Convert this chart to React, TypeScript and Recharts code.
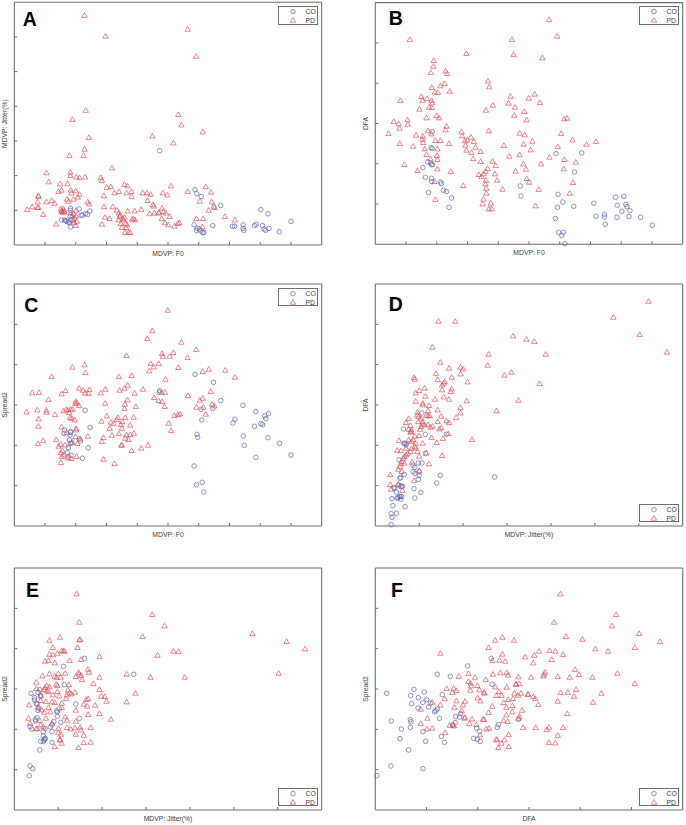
import React from "react";
import { ScatterChart, Scatter, XAxis, YAxis, Label } from "recharts";

type P = number[];

const f0Ticks = [100, 120, 140, 160, 180, 200, 220, 240, 260];
const jitterTicks = [5, 10, 15, 20, 25, 30];
const dfaTicks = [600, 650, 700, 750, 800];
const spreadTicks = [100, 200, 300, 400, 500];
const f0Domain = [80, 280];
const jitterDomain = [0, 35];
const dfaDomain = [550, 850];
const spreadDomain = [0, 600];
const seriesNames = ["CO", "PD"];

// Jitter and DFA and Spread2 are stored in thousandths
const aCO: P[] = [[174.6,13.6],[197.6,8],[198.7,7.4],[201.7,7],[209.8,5.5],[214.3,5.7],[240.4,5.1],[245,4.5],[260,3.4],[252.4,1.9],[245.7,2.4],[243.5,2.1],[242.6,2.3],[241.5,2.8],[237.4,3],[236.3,2.8],[229.3,2.1],[228.9,2.4],[228.9,2.9],[223.3,2.7],[222,2.7],[209.1,2.8],[203.3,1.8],[202.6,1.8],[201.5,2],[200.4,2.3],[198.9,2.4],[198.5,2.1],[197,2.9],[116.5,5.3],[116.5,5],[122.2,5.2],[129.1,4.9],[127.6,4.4],[126.3,4.5],[123.5,4.3],[124.3,4.3],[110.7,3.6],[112.6,3.6],[114.1,3.4],[115.2,3.3],[115.9,3.2],[116.5,2.6],[117,3.6],[113.5,3.5],[116.3,4.1],[118.9,3.8]];
const aPD: P[] = [[125.7,33.1],[139.3,30.1],[192.8,31.1],[198.3,27.2],[126.5,19.4],[117.8,18.1],[186.7,18.8],[188.7,17.3],[202.6,16.3],[169.8,15.7],[128.5,15.5],[183.5,14.7],[125.7,13.8],[125,12.9],[115.9,12.9],[143.5,11.1],[100.9,10.4],[116.5,10.5],[116.5,10],[120.4,9.8],[122.4,9.7],[126.1,9.8],[136.3,9.7],[137,9.3],[102.4,9.1],[109.8,8.8],[114.6,8.8],[108.7,7.7],[110.7,7.9],[116.7,7.9],[120,7.8],[117.2,7.5],[122.4,7.3],[121.3,6.9],[118.5,6.6],[114.3,6.6],[115.2,6.3],[95.7,7.1],[95.7,7],[95.2,6.2],[95,5.4],[91.7,5.5],[88.3,5.1],[100.9,6.2],[104.3,6.4],[106.3,6],[98.7,4.4],[95.7,5.4],[127.8,6.2],[128.7,5.9],[138.3,7.1],[138.3,5.5],[140.2,8.3],[142.8,8.4],[145.2,7.5],[148,7.7],[151.7,8.7],[153.7,8.5],[153,7.5],[156.3,7.7],[156.3,7],[163.5,7.5],[166.3,7.5],[168.7,7.3],[166.7,6.4],[170.2,5.8],[170.7,5.6],[176.7,7.5],[179.6,7.2],[182,8.5],[192.8,7.7],[204.6,8.4],[208,7.6],[200.7,6.3],[208.5,6.2],[210.2,5.4],[206.5,5],[217,4.1],[223.5,3.6],[198.5,3.8],[202.8,3.8],[202.4,2.6],[187.4,3.2],[186.5,3.1],[184.1,2.7],[180.2,2.9],[178,3.2],[181.1,4.1],[178.7,4.6],[177.2,4.8],[176.1,5.3],[175.9,3.8],[173.9,4.6],[174.1,4.7],[171.1,4.6],[168,4.5],[162.6,5.1],[158.3,4.9],[153.7,4.9],[144.1,5.5],[146.7,5],[148,4.6],[148.5,4.1],[151.7,4],[150.7,3.8],[152.4,3.1],[149.3,3.1],[150,2.5],[152.8,2.5],[152,1.8],[154.3,1.8],[155.4,1.8],[156.7,3.7],[158.5,3.6],[157.6,3.8],[142,3.8],[139.1,4],[137,3],[110.2,5.2],[110.9,5],[112,5.2],[112.6,4.9],[110.7,4.8],[111.5,4.7],[112.4,4.8],[107.2,3],[118.5,4.5],[120.2,5],[120.2,4.2],[117.4,4.1],[118.5,3.6],[120.7,3.4],[118.9,3.2],[120,2.8],[116.7,4.6],[148.9,4.3],[151.1,3.6],[153.3,2.9],[147.8,3.6]];

const bCO: P[] = [[117,689.8],[117,668.7],[197.6,662.5],[214.3,663.4],[209.6,639.8],[114.1,652.2],[115.9,651],[116.7,648.9],[110.9,645.2],[112.6,633.2],[116.5,631.9],[116.7,627.8],[122.4,627.4],[123,625.3],[124.3,617],[126.3,615.4],[114.6,614.1],[129.6,607.5],[128,595.9],[174.3,622.4],[174.8,610],[198.9,612],[202,602.5],[198.5,595.9],[209.1,597.2],[197.2,581.9],[199.3,564.9],[202.4,564.9],[201.3,560.8],[203.3,550.8],[222.2,600.9],[223.5,584.8],[229.1,587.2],[229.1,583.9],[229.6,574.8],[236.3,608.3],[241.7,609.6],[243,599.6],[237.4,598.4],[243.7,596.8],[240.4,591],[245.7,591.8],[245,584.3],[237.2,583.5],[252.6,583.5],[260.2,573.6],[117.2,648.9],[116.3,670]];
const bPD: P[] = [[193,828.9],[198.3,808.2],[102.4,804],[168.9,804],[170,785.4],[139.3,786.7],[188.7,781.3],[118,778],[117.8,770.9],[116.1,763],[125.7,765],[126.7,761.8],[153.3,752.7],[154.1,745.3],[125.2,749.4],[122.4,746.5],[116.7,744.5],[128.5,739.9],[118.7,738.7],[120.7,738.2],[168,733.7],[183.7,736.2],[179.8,731.2],[110,733.3],[110.7,728.7],[113.7,730.8],[116.7,728.3],[117,725.4],[96.3,728.3],[187,725.8],[166.7,725],[156.5,722.5],[170.9,720],[152,716.3],[108.7,717.6],[115,720],[116.7,719.6],[177,714.7],[170.4,710.1],[120,709.7],[121.5,706.8],[113.3,706.8],[178.5,704.3],[202.8,705.6],[204.8,706.4],[100.9,704.3],[101.1,698.9],[92,702.3],[95.2,699.4],[95.7,694],[126.3,696.5],[125.7,691.9],[153.9,690.7],[88.5,687.4],[114.3,690.7],[116.5,686.9],[106.5,685.3],[110.9,684],[110.7,680.3],[136.1,689.4],[136.5,684.5],[142.2,682.8],[139.8,679.5],[144.1,677.4],[173.9,687.8],[177.2,685.7],[200.9,687.4],[119.1,678.7],[122.4,678.7],[128,674.9],[138.3,678.3],[138.7,672.9],[111.1,676.2],[95.9,674.9],[104.6,671.6],[182.2,677.8],[176.5,674.1],[163.7,672.5],[208.3,679.5],[217.4,674.1],[223.5,677.4],[198.7,671.2],[145.2,670.4],[148.5,665],[142.6,663.8],[139.3,666.7],[112.2,668.3],[120.4,668.3],[113.3,661.3],[120.2,660],[115.9,655.9],[120.4,655.1],[143.7,656.3],[167.2,659.2],[173.9,660.9],[181.1,667.1],[193.3,658],[203,655.1],[210.4,651.8],[148.5,652.6],[156.3,653],[158.3,647.6],[176.3,649.7],[187.8,649.7],[98.9,648.9],[107.4,641.4],[120.4,643.5],[129.1,640.2],[153,643.9],[151.7,640.6],[150.4,637.3],[147.4,636.5],[149.1,634],[157.8,637.3],[171.3,640.6],[178,643.1],[202.6,643.5],[159.3,629.4],[152,629.4],[178.5,631.5],[180.2,627],[208.7,626.5],[137.2,622.8],[151.7,624.9],[162.8,618.3],[186.3,617.9],[152.2,619.5],[152.2,613.3],[206.5,613.3],[150.4,605.9],[119.1,605.4],[149.8,600],[155.2,600.9],[184.3,597.6],[153.9,593.9],[155.7,593.9],[118.5,627.8]];

const cCO: P[] = [[197.6,376],[209.6,356.2],[174.6,335.5],[174.3,331.4],[214.3,310.7],[228.7,299.2],[201.5,289.3],[209.1,291.7],[202,262.8],[237.2,283.5],[245.4,278.5],[243,272.7],[243.7,266.1],[223.5,264.5],[222.2,255.4],[240.4,253.7],[241.5,251.2],[236.3,247.1],[129.3,244.6],[126.1,286.8],[112.6,238],[116.5,232.2],[116.3,225.6],[228.9,223.1],[245,219],[198.9,227.3],[199.3,219.8],[252.6,205],[229.6,200],[237.2,170.2],[260,176],[128,194.2],[122.2,215.7],[123,210.7],[117,205],[115.9,213.2],[115.2,194.2],[114.6,181.8],[117,175.2],[124.3,167.8],[197,148.8],[202.2,108.3],[198.5,102.5],[203.3,84.3],[112.4,229.8],[116.7,233.9],[116.5,205],[115.2,171.9]];
const cPD: P[] = [[179.8,534.7],[169.8,483.5],[166.5,464.5],[188.7,455.4],[198.3,437.2],[153,422.3],[176.1,427.3],[176.7,420.7],[181.1,420.7],[183.5,429.8],[192.8,417.4],[168.7,402.5],[173.9,402.5],[170.7,394.2],[167.8,384.3],[186.7,392.6],[125.7,399.2],[117.8,393.4],[104.3,370.2],[126.3,380.2],[202.6,382.6],[206.5,388.4],[217.2,386],[223.5,368.6],[148,370.2],[156.3,372.7],[178.3,363.6],[153.7,348.8],[151.7,341.3],[148.5,336.4],[139.3,338.8],[122.2,341.3],[124.8,336.4],[128.9,338],[126.1,328.9],[128.3,328.9],[113.3,335.5],[110.7,327.3],[91.7,329.8],[96.1,330.6],[136.3,329.8],[158.3,328.9],[163.7,338.8],[175.9,331.4],[178,331.4],[207.8,333.1],[193,323.1],[170.9,318.2],[173.9,310.7],[176.1,308.3],[153.7,312.4],[202.6,316.5],[200.7,311.6],[102.2,313.2],[120,308.3],[119.6,304.1],[120.7,304.1],[122.2,298.3],[139.1,304.1],[152,301.7],[151.7,290.9],[159.1,295.9],[177.8,295.9],[208.7,301.7],[210.2,297.5],[198.5,294.2],[203,294.2],[88,282.6],[95,287.6],[100.9,286.8],[100.9,281.8],[106.5,276],[112,285.1],[113.7,288.4],[115,287.6],[116.7,289.3],[118,289.3],[115.7,281],[95.7,265.3],[116.3,268.6],[117.4,266.9],[119.3,262.8],[204.6,276.9],[187.8,277.7],[186.5,276],[184.1,273.6],[140.2,272.7],[147.4,268.6],[152.2,268.6],[157.6,269.4],[146.7,263.6],[136.7,259.5],[142.8,257],[144.6,253.7],[150.2,258.7],[149.3,251.2],[155.4,249.6],[180.4,254.5],[95.7,247.1],[110.7,245.5],[120.2,241.3],[120.2,238],[114.1,231.4],[142,242.1],[150,242.1],[182,236.4],[143.5,224.8],[148,228.9],[153,225.6],[155.4,226.4],[157.8,229.8],[152.2,217.4],[154.3,214],[127.8,222.3],[138,219],[137,209.1],[119.8,221.5],[122.8,215.7],[98.7,211.6],[95.4,204.1],[107.2,214],[110.2,202.5],[108.7,197.5],[113,200.8],[117.8,207.4],[121.1,204.1],[150,200.8],[149.6,200],[167,200],[162.6,192.6],[156.3,186.8],[111.3,186.8],[110.4,181.8],[112,176],[110.9,171.9],[114.8,168.6],[117,166.9],[120.4,171.9],[110.4,157],[138,165.3],[145.2,154.5]];

const dCO: P[] = [[5.3,690.1],[3.2,670.2],[5.7,663.6],[8.1,663.6],[3.3,652.5],[3.5,652.1],[5.7,640],[2.7,632.2],[4.9,628.1],[5.3,628.1],[4.3,625.6],[4.5,622.7],[4.3,617.4],[4.5,615.3],[3.3,614],[5,612.4],[7.4,612.8],[2.9,610.3],[2.8,609.1],[13.6,610.7],[4.9,607.9],[7,603.3],[4.4,596.3],[5.2,591.7],[3,599.2],[2.1,597.9],[2.7,600.8],[2.4,592.1],[1.9,583.9],[2.5,584.7],[2.8,586.8],[3,586.4],[2.9,583.1],[4.5,584.7],[2,575.2],[3.4,574],[1.8,565.3],[2.4,565.7],[1.9,560.7],[1.8,551.7],[3.5,650.4],[2.9,598.8],[3.3,652.5],[2.2,596.7],[2.6,585.1],[3.1,599.2],[5,617.4],[2.8,586.4]];
const dPD: P[] = [[31.1,828.5],[27.1,808.7],[7.2,803.7],[9.1,803.7],[15.7,785.5],[17.2,781.4],[18.1,778.5],[30.1,787.2],[6.5,771.5],[12.9,762.8],[19.4,762.8],[33.2,765.3],[7.4,752.9],[12.8,749.2],[9.7,746.7],[10,744.6],[8.4,745.5],[15.5,740.5],[14.7,736.8],[6.9,738.8],[9.7,738.4],[8.7,734.3],[4.4,733.9],[4.5,731.8],[7.1,731.4],[10.5,728.5],[7.9,728.9],[7.8,726.9],[7.6,724.8],[18.7,726.4],[7.6,718.6],[5,717.8],[5.6,720.7],[8.7,719.8],[8.6,716.5],[4.6,714.9],[5.7,710.7],[7.8,709.9],[8.4,707],[6.8,707],[4.6,704.5],[5.4,702.1],[5.4,700],[10.4,705],[16.3,705.8],[6.1,699.2],[9.7,696.7],[7.1,693.8],[9.7,690.1],[13.8,692.6],[4.8,690.9],[6,693],[4.8,687.6],[4.9,685.5],[3.8,683.1],[5.8,687.2],[6,686.8],[6.2,686.4],[7.5,686],[9.2,684.3],[5.2,683.5],[3.5,678.1],[5.4,679.3],[5.4,676.4],[5.6,675.2],[7.1,679.3],[8.1,680.2],[8.4,678.1],[6,675.6],[4,674.4],[6.5,673.6],[6.3,672.3],[7.5,671.9],[7.3,670.2],[3.8,669.8],[4.1,669],[4,666.1],[5.1,669.8],[8.3,664.5],[4.5,661.2],[5,662],[6.4,659.5],[7.7,658.3],[11,657],[3.8,656.6],[2.7,655.8],[7,653.3],[5.4,652.5],[4.6,652.5],[4.1,645.9],[2.5,643.8],[2.9,643],[4,642.1],[4.6,646.7],[4.8,642.1],[5.8,640.5],[3.5,638],[7.6,637.2],[3.2,633.9],[5,636.4],[3,629.8],[3.3,627.7],[4.2,628.9],[6.1,626.9],[2.9,626.9],[2.6,620.2],[3,617.4],[5,618.6],[1.7,613.6],[4.4,606.2],[1.7,601.2],[2.6,601.7],[1.8,595.5],[3.1,593.8],[4.1,666.9],[4.3,656.6],[3.5,646.3],[3.7,640],[3.3,636],[2.8,623.6],[4.9,679.3],[5.2,673.1],[4.1,654.5],[4.5,648.3]];

const eCO: P[] = [[8,376],[5.6,356.2],[13.6,336.4],[5.7,310.7],[1.9,289.3],[2.3,278.5],[2.9,298.3],[2.3,272.7],[2.7,291.7],[3,281.8],[2.6,262],[7,262.8],[2.8,252.1],[2.7,247.1],[5.1,250.4],[4.9,243],[4.9,232.2],[7.4,227.3],[2.6,228.9],[2.4,224.8],[2.4,220.7],[4.5,219.8],[5.3,217.4],[1.8,206.6],[2,200.8],[4.3,210.7],[4.1,205.8],[4.3,194.2],[3.5,201.7],[3.3,194.2],[3.3,183.5],[3.5,177.7],[3.5,176],[3,170.2],[3.3,170.2],[4.3,167.8],[2.9,148.8],[1.8,109.1],[2.1,102.5],[1.7,85.1],[3,285.1],[2.5,264.5],[3.4,173.6],[4.8,245.5]];
const ePD: P[] = [[7.1,535.5],[15.7,484.3],[7.4,465.3],[17.1,456.2],[14.6,429.8],[5.2,428.1],[7.4,421.5],[7.5,422.3],[4,420.7],[27.1,437.2],[31,417.4],[33.1,399.2],[4.4,402.5],[7.2,402.5],[5.4,395],[5.6,394.2],[5.7,393.4],[4.9,388.4],[4,386],[4.4,384.3],[9.7,380.2],[18.1,393.4],[18.7,392.6],[16.3,383.5],[7.6,372.7],[6.3,370.2],[3.5,368.6],[3.9,370.2],[4.6,364.5],[8.4,348.8],[8.5,341.3],[7.3,341.3],[7.4,337.2],[7,330.6],[7.6,333.1],[7.7,323.1],[4,337.2],[3.2,332.2],[5,338],[5.8,338.8],[4.6,331.4],[4.8,328.1],[5.3,328.9],[9.7,328.9],[12.8,336.4],[15.5,328.9],[19.4,328.9],[30.1,338.8],[2.5,316.5],[4.8,311.6],[4.9,308.3],[6.2,310.7],[9,313.2],[3.7,308.3],[4,305],[3.5,303.3],[3.4,298.3],[2.5,300.8],[3.7,295],[3.9,293.4],[9.7,298.3],[6.1,297.5],[4.9,293.4],[6.9,291.7],[6.3,290.1],[6.5,287.6],[6,285.1],[13.8,289.3],[9.9,281.8],[10.3,281],[10.5,269.4],[8.4,276],[8.2,273.6],[12.8,267.8],[5.9,276],[5.1,282.6],[4.4,285.1],[3,282.6],[3,271.1],[3.6,268.6],[4.6,266.1],[4.3,267.8],[1.7,260.3],[3.9,253.7],[5.4,264.5],[7.9,262],[8.3,257],[9.2,259.5],[2.7,254.5],[3.1,247.9],[3.4,242.1],[4.1,243],[5.4,253.7],[7,247.1],[9.7,238.8],[8.4,236.4],[11,224.8],[1.6,227.3],[1.8,214.9],[3,210.7],[3.3,206.6],[2.5,200.8],[5.8,230.6],[6,222.3],[7,219.8],[5,202.5],[6,204.1],[6.4,200.8],[6.9,203.3],[7.5,205],[8.7,204.1],[7.6,198.3],[5,191.7],[5.3,187.6],[7,187.6],[7.9,185.1],[5.2,175.2],[5.2,172.7],[5.4,165.3],[7.9,166.9],[8.7,167.8],[4.6,157],[7.3,154.5],[3.6,227.3],[2.9,221.5],[2.6,201.7],[4.3,214.9]];

const fCO: P[] = [[663.2,376],[640.1,357],[610.5,336.4],[623.2,331.4],[663.9,311.6],[561.1,289.3],[587.7,299.2],[597.8,292.6],[584.5,283.5],[615.4,286],[592,278.5],[596.5,266.9],[600.1,273.6],[585.5,263.6],[603.7,264.5],[591.7,252.9],[602.1,255.4],[610.5,250.4],[609.2,246.3],[607.9,243.8],[633.3,238.8],[628.4,232.2],[632.3,230.6],[612.5,227.3],[565.6,220.7],[584.2,224],[584.8,219],[689.6,224.8],[628.1,216.5],[670.1,211.6],[669.1,205],[584.2,205],[575.4,200.8],[596.5,194.2],[648.9,202.5],[651.9,195],[614.4,182.6],[574.1,176.9],[646,177.7],[649.6,175.2],[599.1,170.2],[617.4,167.8],[652.5,170.2],[582.5,148.8],[565.3,109.1],[596.5,102.5],[551.6,85.1],[625.5,210.7]];
const fPD: P[] = [[730.6,535.5],[785,484.3],[781,456.2],[724.4,465.3],[807.4,437.2],[736.1,429.8],[752.1,423.1],[827.9,417.4],[674,428.1],[667.1,420.7],[685.4,420.7],[660.6,402.5],[803.2,402.5],[764.8,399.2],[777.1,393.4],[719.9,395],[725.7,393.4],[709.8,393.4],[613.5,388.4],[674,386],[696.4,379.3],[705.2,383.5],[733.2,385.1],[664.2,370.2],[671.1,371.1],[676.9,368.6],[722.1,372.7],[704.2,364.5],[744.9,347.9],[786.3,338.8],[715.6,341.3],[714.7,336.4],[678.2,340.5],[672,339.7],[664.9,336.4],[640.8,338],[631.4,331.4],[647.3,328.9],[657.7,323.1],[679.5,333.9],[689.6,329.8],[702,328.9],[714,332.2],[728,330.6],[748.8,335.5],[739.7,328.9],[761.8,328.9],[640.8,318.2],[643.1,314],[643.7,307.4],[649.6,308.3],[642.7,296.7],[651.5,297.5],[656.1,291.7],[667.1,305],[678.2,304.1],[687.3,311.6],[690.6,313.2],[619.6,300.8],[626.5,301.7],[629.1,295.9],[625.2,290.9],[803.2,313.2],[745.9,298.3],[730.9,290.9],[737.8,291.7],[770.6,289.3],[670.7,293.4],[656.4,289.3],[668.1,283.5],[673.3,283.5],[685.7,289.3],[692.2,289.3],[699,286.8],[704.2,281],[689.3,284.3],[743.9,281.8],[649.9,277.7],[617.7,275.2],[594.3,249.6],[629.1,270.2],[637.5,269.4],[635.6,260.3],[652.5,270.2],[613.5,260.3],[605.6,266.9],[728,269.4],[762.5,266.9],[706.2,276],[709.1,261.2],[684.4,276],[679.5,273.6],[675,266.1],[664.2,257],[677.9,254.5],[683.7,258.7],[693.2,247.1],[737.4,238.8],[634.3,246.3],[627.1,254.5],[660.6,241.3],[683.7,243],[677.9,235.5],[690.6,232.2],[637.2,229.8],[656.1,224],[644.4,225.6],[675,221.5],[679.2,219],[600.8,227.3],[641.8,214],[594.3,214],[622.6,209.9],[626.8,208.3],[648.6,211.6],[689.9,227.3],[661,202.5],[658.4,200.8],[694.2,204.1],[706.5,204.1],[717.3,199.2],[719.5,205],[733.2,204.1],[600.4,200.8],[605.6,202.5],[618.3,191.7],[652.2,186],[680.2,186.8],[728,185.1],[668.8,173.6],[668.1,175.2],[675.9,173.6],[673,165.3],[719.5,166.9],[725.7,166.1],[670.1,154.5],[680.2,157],[637.2,227.3],[655.1,224.8],[687.3,311.6],[699,286.8],[625.8,210.7]];

const FONT = "'Liberation Sans', Arial, sans-serif";
const AXIS = "#6e6e6e";
const TEXT = "#3c3c3c";
const BLUE = "#5c68ad";
const RED = "#e2505c";
const CHART_W = 343;
const CHART_H = 275;
const TICK = -3;
const noLabel = () => <g />;
const tickLine = { stroke: AXIS, strokeWidth: 1 };

const toRows = (pts: P[]) => pts.map(([x, y]) => ({ x, y }));
const circleShape = (p: any) => (
  <circle cx={p.cx} cy={p.cy} r={2.3} fill="none" stroke={BLUE} strokeWidth={0.7} />
);
const triangleShape = (p: any) => (
  <path
    d={`M${p.cx},${p.cy - 2.8}L${p.cx + 2.7},${p.cy + 1.9}L${p.cx - 2.7},${p.cy + 1.9}Z`}
    fill="none"
    stroke={RED}
    strokeWidth={0.7}
  />
);

type PanelProps = {
  letter: string; left: number; top: number;
  frameL: number; frameR: number; frameT: number; frameB: number;
  letterX: number; letterY: number;
  xName: string; yName: string;
  xDomain: number[]; yDomain: number[]; xTicks: number[]; yTicks: number[];
  co: P[]; pd: P[]; legendBottom?: boolean;
};

function LegendBox({ right, top, bottom }: { right: number; top?: number; bottom?: number }) {
  return (
    <div
      style={{
        position: "absolute", left: right - 39.7, top: bottom !== undefined ? bottom - 18.7 : top,
        width: 39.7, height: 18.7, boxSizing: "border-box", border: `0.8px solid ${AXIS}`,
        background: "#fff", fontFamily: FONT, fontSize: 6.8, color: TEXT,
      }}
    >
      <svg width={38} height={17} style={{ position: "absolute", left: 0, top: 0 }}>
        {circleShape({ cx: 14, cy: 4.6 })}
        {triangleShape({ cx: 14, cy: 13.3 })}
        <text x={26.5} y={7} fontSize={6.8} fontFamily={FONT} fill={TEXT}>{seriesNames[0]}</text>
        <text x={26.5} y={15.6} fontSize={6.8} fontFamily={FONT} fill={TEXT}>{seriesNames[1]}</text>
      </svg>
    </div>
  );
}

function Panel(p: PanelProps) {
  const labelStyle = { fontFamily: FONT, fontSize: 6.8, fill: TEXT };
  const AX = 1; // thickness reserved for each zero-label axis so the library still draws it
  return (
    <div style={{ position: "absolute", left: p.left, top: p.top, width: CHART_W, height: CHART_H }}>
      <ScatterChart
        width={CHART_W}
        height={CHART_H}
        margin={{ left: p.frameL - AX, right: CHART_W - p.frameR - AX, top: p.frameT - AX, bottom: CHART_H - p.frameB - AX }}
      >
        <XAxis xAxisId="b" type="number" dataKey="x" domain={p.xDomain} ticks={p.xTicks} interval={0} orientation="bottom" height={AX} tick={noLabel} tickLine={tickLine} tickSize={TICK} stroke={AXIS} strokeWidth={1.1}>
          <Label value={p.xName} position="bottom" offset={5} style={labelStyle} />
        </XAxis>
        <XAxis xAxisId="t" type="number" dataKey="x" domain={p.xDomain} ticks={p.xTicks} interval={0} orientation="top" height={AX} tick={noLabel} tickLine={tickLine} tickSize={TICK} stroke={AXIS} strokeWidth={1.1} />
        <YAxis yAxisId="l" type="number" dataKey="y" domain={p.yDomain} ticks={p.yTicks} interval={0} orientation="left" width={AX} tick={noLabel} tickLine={tickLine} tickSize={TICK} stroke={AXIS} strokeWidth={1.1}>
          <Label value={p.yName} angle={-90} position="insideLeft" offset={-9} style={{ ...labelStyle, textAnchor: "middle" }} />
        </YAxis>
        <YAxis yAxisId="r" type="number" dataKey="y" domain={p.yDomain} ticks={p.yTicks} interval={0} orientation="right" width={AX} tick={noLabel} tickLine={tickLine} tickSize={TICK} stroke={AXIS} strokeWidth={1.1} />
        <Scatter name={seriesNames[0]} data={toRows(p.co)} xAxisId="b" yAxisId="l" shape={circleShape} isAnimationActive={false} />
        <Scatter name={seriesNames[1]} data={toRows(p.pd)} xAxisId="b" yAxisId="l" shape={triangleShape} isAnimationActive={false} />
      </ScatterChart>
      <div
        style={{
          position: "absolute", left: p.letterX, top: p.letterY - 2.5, fontFamily: FONT,
          fontWeight: 700, fontSize: 19.5, lineHeight: "19.5px", color: "#000",
        }}
      >
        {p.letter}
      </div>
      {p.legendBottom ? (
        <LegendBox right={p.frameR - 3.7} bottom={p.frameB - 3.7} />
      ) : (
        <LegendBox right={p.frameR - 3.7} top={p.frameT + 3.7} />
      )}
    </div>
  );
}

export default function App() {
  const L = { frameL: 14.3, frameR: 321.7 };
  const R = { frameL: 32.3, frameR: 339.7 };
  return (
    <div style={{ position: "absolute", left: 0, top: 0, width: 686, height: 825, background: "#fff", overflow: "hidden" }}>
      <Panel letter="A" left={0} top={0} {...L} frameT={2.3} frameB={245} letterX={22.7} letterY={12}
        xName="MDVP: F0" yName="MDVP: Jitter(%)" xDomain={f0Domain} yDomain={jitterDomain} xTicks={f0Ticks} yTicks={jitterTicks} co={aCO} pd={aPD} />
      <Panel letter="B" left={343} top={0} {...R} frameT={2.6} frameB={244.3} letterX={45.7} letterY={11}
        xName="MDVP: F0" yName="DFA" xDomain={f0Domain} yDomain={dfaDomain} xTicks={f0Ticks} yTicks={dfaTicks} co={bCO} pd={bPD} />
      <Panel letter="C" left={0} top={275} {...L} frameT={9} frameB={251} letterX={24.3} letterY={23}
        xName="MDVP: F0" yName="Spread2" xDomain={f0Domain} yDomain={spreadDomain} xTicks={f0Ticks} yTicks={spreadTicks} co={cCO} pd={cPD} />
      <Panel letter="D" left={343} top={275} {...R} frameT={9} frameB={251} letterX={45.7} letterY={22.7}
        xName="MDVP: Jitter(%)" yName="DFA" xDomain={jitterDomain} yDomain={dfaDomain} xTicks={jitterTicks} yTicks={dfaTicks} co={dCO} pd={dPD} legendBottom />
      <Panel letter="E" left={0} top={555} {...L} frameT={13} frameB={255} letterX={26} letterY={28.3}
        xName="MDVP: Jitter(%)" yName="Spread2" xDomain={jitterDomain} yDomain={spreadDomain} xTicks={jitterTicks} yTicks={spreadTicks} co={eCO} pd={ePD} legendBottom />
      <Panel letter="F" left={343} top={555} {...R} frameT={13} frameB={255} letterX={48} letterY={28.3}
        xName="DFA" yName="Spread2" xDomain={dfaDomain} yDomain={spreadDomain} xTicks={dfaTicks} yTicks={spreadTicks} co={fCO} pd={fPD} legendBottom />
    </div>
  );
}
